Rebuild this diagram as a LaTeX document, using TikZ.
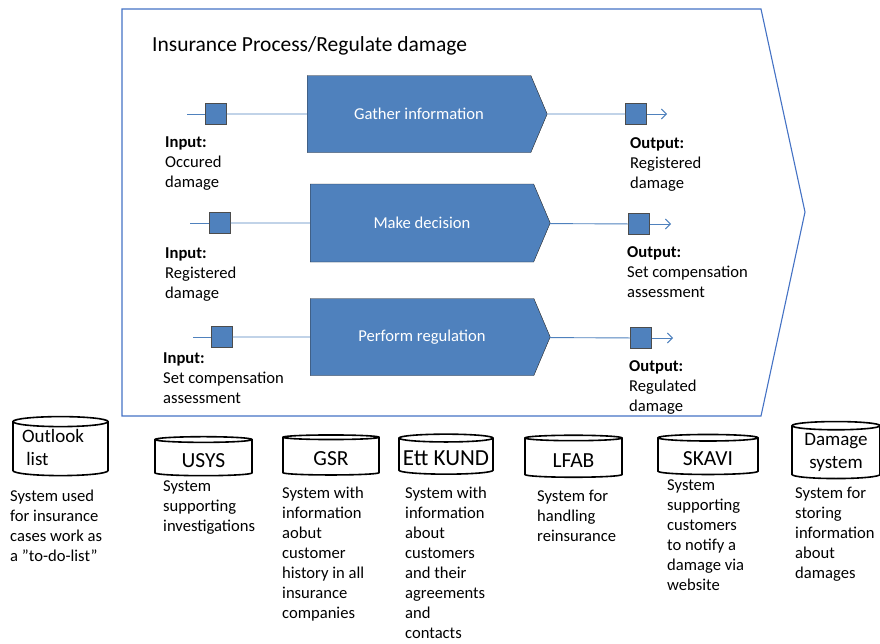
\documentclass[tikz,border=0pt]{standalone}
\usepackage{fontspec}
\setmainfont{Carlito}
\usetikzlibrary{shapes.symbols,shapes.geometric,arrows.meta}
\definecolor{procblue}{RGB}{79,129,189}
\definecolor{frameblue}{RGB}{68,114,196}
\tikzset{
  process/.style={shape=signal,signal to=east,signal pointer angle=134,draw=black!85,fill=procblue,
    text=white,minimum width=240pt,minimum height=77pt,inner sep=0pt,font=\fontsize{16.6}{20}\selectfont},
  port/.style={shape=rectangle,draw=black!70,fill=procblue,minimum size=21pt,inner sep=0pt},
  flow/.style={draw=procblue,line width=0.9pt},
  dbnode/.style={shape=cylinder,shape border rotate=90,aspect=0.13,draw=black,line width=1.6pt,
    inner sep=0pt,font=\fontsize{21.5}{23}\selectfont,text height=18pt,text depth=0pt},
  dbnode2/.style={dbnode,font=\fontsize{19}{23}\selectfont},
  txt/.style={anchor=north west,inner sep=0pt,align=left,font=\fontsize{16.6}{20}\selectfont},
}
\begin{document}
\begin{tikzpicture}[x=1pt,y=-1pt,>={Straight Barb[length=5pt,width=10pt]}]
\useasboundingbox (0,0) rectangle (880,643);

% process frame
\draw[frameblue,line width=1.1pt] (122,9) -- (761,9) -- (805,212) -- (761,416) -- (122,416) -- cycle;
\node(title) at (152,46)[anchor=west,inner sep=0pt,font=\fontsize{21.5}{25}\selectfont] {Insurance Process/Regulate damage};

% activities
\node(gather)   at (307,114)[process,anchor=west] {Gather information};
\node(decide)   at (310,223)[process,anchor=west,minimum height=78pt] {Make decision};
\node(regulate) at (310,337)[process,anchor=west] {Perform regulation};

% inputs and outputs
\coordinate(in1start) at (187,114);
\coordinate(in2start) at (190,223);
\coordinate(in3start) at (193,337);
\node(in1) at (216,114)[port] {};
\node(in2) at (220,223)[port] {};
\node(in3) at (222,337)[port] {};
\node(out1) at (636,114)[port] {};
\node(out2) at (639,224)[port] {};
\node(out3) at (641,338)[port] {};
\coordinate(out1end) at (667,114);
\coordinate(out2end) at (671,224);
\coordinate(out3end) at (673,338);

\path [flow]
  (in1start) edge (in1)  (in1) edge (gather)
  (in2start) edge (in2)  (in2) edge (decide)
  (in3start) edge (in3)  (in3) edge (regulate)
  (gather)   edge (out1) (out1) edge [->] (out1end)
  (decide)   edge (out2) (out2) edge [->] (out2end)
  (regulate) edge (out3) (out3) edge [->] (out3end);

\node(in1txt)  at (165,137)[txt] {\textbf{Input:}\\Occured\\damage};
\node(in2txt)  at (165,248)[txt] {\textbf{Input:}\\Registered\\damage};
\node(in3txt)  at (163,353)[txt] {\textbf{Input:}\\Set compensation\\assessment};
\node(out1txt) at (630,137)[txt] {\textbf{Output:}\\Registered\\damage};
\node(out2txt) at (627,246)[txt] {\textbf{Output:}\\Set compensation\\assessment};
\node(out3txt) at (629,360)[txt] {\textbf{Output:}\\Regulated\\damage};

% systems
\node(outlook) at (60.5,449)[dbnode2,minimum width=95pt,minimum height=59pt,text height=33pt,text depth=-7pt,align=left] {Outlook\hspace*{15pt}\\\ list};
\node(usys)    at (203.5,458)[dbnode,minimum width=97pt,minimum height=39pt] {USYS};
\node(gsr)     at (331,456.5)[dbnode,minimum width=96pt,minimum height=40pt] {GSR};
\node(kund)    at (446,456.5)[dbnode,minimum width=94pt,minimum height=40pt,font=\fontsize{23}{25}\selectfont] {\makebox[60pt]{Ett KUND}};
\node(lfab)    at (573.5,458)[dbnode,minimum width=97pt,minimum height=42pt] {LFAB};
\node(skavi)   at (708,456.5)[dbnode,minimum width=100pt,minimum height=40pt] {SKAVI};
\node(dmgsys)  at (836,452.5)[dbnode2,minimum width=88pt,minimum height=57pt,text height=31pt,text depth=-4pt,align=center] {Damage\\system};

\node(outlooktxt) at (10,490)[txt] {System used\\for insurance\\cases work as\\a ”to-do-list”};
\node(usystxt)    at (163,481)[txt] {System\\supporting\\investigations};
\node(gsrtxt)     at (282,487)[txt] {System with\\information\\aobut\\customer\\history in all\\insurance\\companies};
\node(kundtxt)    at (405,487)[txt] {System with\\information\\about\\customers\\and their\\agreements\\and\\contacts};
\node(lfabtxt)    at (537,490)[txt] {System for\\handling\\reinsurance};
\node(skavitxt)   at (667,480)[txt] {System\\supporting\\customers\\to notify a\\damage via\\website};
\node(dmgsystxt)  at (795,487)[txt] {System for\\storing\\information\\about\\damages};

\end{tikzpicture}
\end{document}
